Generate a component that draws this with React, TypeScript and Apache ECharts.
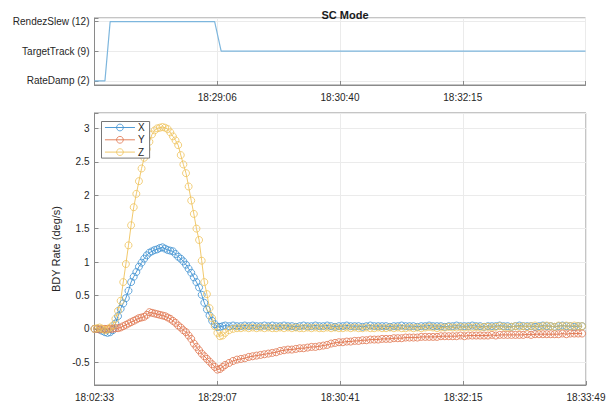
import React, { useEffect, useRef } from "react";
import * as echarts from "echarts";

const MODE_NAMES = ["RateDamp (2)", "TargetTrack (9)", "RendezSlew (12)"];
const MODE_T = [0, 8, 12, 92, 97, 376];
const MODE_V = [0, 0, 2, 2, 1, 1];

const TOP_TICKS = ["", "18:29:06", "18:30:40", "18:32:15", ""];
const BOTTOM_TICKS = ["18:02:33", "18:29:07", "18:30:41", "18:32:15", "18:33:49"];

const T = [
  0, 2, 4, 6, 8, 10, 12, 14, 16, 18,
  20, 22, 24, 26, 28, 30, 32, 34, 36, 38,
  40, 42, 44, 46, 48, 50, 52, 54, 56, 58,
  60, 62, 64, 66, 68, 70, 72, 74, 76, 78,
  80, 82, 84, 86, 88, 90, 92, 94, 96, 98,
  100,
  103, 106, 109, 112, 115, 118, 121, 124, 127, 130,
  133, 136, 139, 142, 145, 148, 151, 154, 157, 160,
  163, 166, 169, 172, 175, 178, 181, 184, 187, 190,
  193, 196, 199, 202, 205, 208, 211, 214, 217, 220,
  223, 226, 229, 232, 235, 238, 241, 244, 247, 250,
  253, 256, 259, 262, 265, 268, 271, 274, 277, 280,
  283, 286, 289, 292, 295, 298, 301, 304, 307, 310,
  313, 316, 319, 322, 325, 328, 331, 334, 337, 340,
  343, 346, 349, 352, 355, 358, 361, 364, 367, 370,
  373,
];

const X = [
  0.0, 0.0, -0.01, -0.03, -0.05, -0.06, -0.05, -0.02, 0.08, 0.19,
  0.3, 0.38, 0.46, 0.57, 0.7, 0.78, 0.85, 0.93, 0.99, 1.05,
  1.1, 1.14, 1.16, 1.18, 1.19, 1.21, 1.22, 1.2, 1.18, 1.17,
  1.16, 1.12, 1.08, 1.05, 1.01, 0.96, 0.9, 0.84, 0.77, 0.7,
  0.62, 0.51, 0.39, 0.29, 0.2, 0.12, 0.07, 0.03, 0.03, 0.04,
  0.05,
  0.04, 0.05, 0.04, 0.04, 0.05, 0.04, 0.05, 0.04, 0.04, 0.05,
  0.04, 0.05, 0.04, 0.04, 0.05, 0.04, 0.04, 0.03, 0.04, 0.05,
  0.04, 0.04, 0.05, 0.04, 0.04, 0.05, 0.04, 0.03, 0.04, 0.04,
  0.05, 0.04, 0.04, 0.04, 0.03, 0.04, 0.05, 0.04, 0.04, 0.04,
  0.04, 0.03, 0.04, 0.04, 0.05, 0.04, 0.04, 0.04, 0.03, 0.04,
  0.04, 0.05, 0.04, 0.04, 0.04, 0.03, 0.04, 0.04, 0.05, 0.04,
  0.04, 0.04, 0.05, 0.04, 0.04, 0.03, 0.04, 0.04, 0.04, 0.05,
  0.04, 0.04, 0.03, 0.04, 0.05, 0.04, 0.04, 0.04, 0.03, 0.04,
  0.05, 0.04, 0.04, 0.03, 0.04, 0.05, 0.04, 0.04, 0.03, 0.04,
  0.04,
];

const Y = [
  0.0, 0.0, -0.01, 0.0, 0.0, 0.0, 0.0, 0.0, 0.01, 0.01,
  0.02, 0.04, 0.06, 0.08, 0.1, 0.12, 0.14, 0.16, 0.17, 0.18,
  0.21, 0.25, 0.24, 0.23, 0.22, 0.21, 0.2, 0.19, 0.17, 0.15,
  0.12, 0.09, 0.05, 0.02, -0.02, -0.05, -0.1, -0.15, -0.22, -0.27,
  -0.32, -0.37, -0.41, -0.45, -0.49, -0.53, -0.57, -0.61, -0.6, -0.57,
  -0.54,
  -0.51, -0.48, -0.46, -0.45, -0.44, -0.42, -0.41, -0.4, -0.39, -0.38,
  -0.37, -0.36, -0.35, -0.33, -0.32, -0.31, -0.31, -0.3, -0.29, -0.29,
  -0.28, -0.27, -0.27, -0.26, -0.25, -0.24, -0.22, -0.21, -0.2, -0.2,
  -0.19, -0.19, -0.18, -0.18, -0.17, -0.17, -0.16, -0.16, -0.16, -0.15,
  -0.15, -0.15, -0.14, -0.14, -0.14, -0.13, -0.13, -0.13, -0.13, -0.12,
  -0.12, -0.12, -0.12, -0.12, -0.11, -0.11, -0.11, -0.11, -0.11, -0.1,
  -0.11, -0.1, -0.1, -0.1, -0.1, -0.1, -0.1, -0.09, -0.1, -0.09,
  -0.09, -0.09, -0.09, -0.09, -0.09, -0.09, -0.08, -0.09, -0.08, -0.08,
  -0.08, -0.08, -0.08, -0.08, -0.08, -0.07, -0.08, -0.07, -0.07, -0.07,
  -0.07,
];

const Z = [
  0.0, 0.01, 0.02, 0.0, -0.02, -0.01, 0.02, 0.05, 0.15, 0.27,
  0.42, 0.7, 0.97, 1.25, 1.55, 1.82, 2.02, 2.21, 2.4, 2.56,
  2.69, 2.8, 2.91, 2.97, 3.0, 3.01, 3.02, 3.01, 2.99, 2.94,
  2.88, 2.82, 2.75, 2.6, 2.46, 2.33, 2.13, 1.92, 1.72, 1.5,
  1.33, 1.02, 0.7, 0.52, 0.31, 0.16, 0.04, -0.06, -0.11, -0.1,
  -0.06,
  -0.02, 0.0, 0.01, 0.01, 0.02, 0.01, 0.02, 0.01, 0.02, 0.01,
  0.02, 0.01, 0.01, 0.02, 0.01, 0.02, 0.01, 0.02, 0.01, 0.01,
  0.02, 0.01, 0.02, 0.01, 0.01, 0.02, 0.01, 0.02, 0.01, 0.01,
  0.02, 0.01, 0.02, 0.01, 0.01, 0.02, 0.01, 0.01, 0.02, 0.01,
  0.01, 0.02, 0.01, 0.02, 0.01, 0.01, 0.02, 0.01, 0.02, 0.01,
  0.02, 0.03, 0.02, 0.01, 0.02, 0.02, 0.03, 0.02, 0.02, 0.03,
  0.02, 0.03, 0.02, 0.03, 0.02, 0.03, 0.03, 0.02, 0.03, 0.04,
  0.03, 0.02, 0.03, 0.04, 0.03, 0.04, 0.03, 0.04, 0.05, 0.03,
  0.04, 0.05, 0.04, 0.03, 0.05, 0.04, 0.05, 0.04, 0.05, 0.04,
  0.04,
];

const SERIES_NAMES = ["X", "Y", "Z"];
const SERIES_VALUES = [X, Y, Z];
const COLORS = ["#3d91d1", "#e0744c", "#efc35c"];

const FONT = "Liberation Sans, Arial, Helvetica, sans-serif";
const TEXT = "#262626";
const AXIS = "#8a8a8a";
const GRID = "#ebebeb";

export default function App() {
  const ref = useRef<HTMLDivElement>(null);

  useEffect(() => {
    document.body.style.margin = "0";
    if (!ref.current) return;
    const chart = echarts.init(ref.current, null, { renderer: "svg" });

    const axisCommon = {
      axisLine: { show: true, onZero: false, lineStyle: { color: AXIS, width: 1 } },
      axisTick: { show: true, inside: true, length: 4, lineStyle: { color: AXIS } },
      splitLine: { show: true, lineStyle: { color: GRID, width: 1 } },
    };

    const option: any = {
      animation: false,
      backgroundColor: "#ffffff",
      textStyle: { fontFamily: FONT },
      title: {
        text: "SC Mode",
        left: 340,
        top: 4,
        textAlign: "center",
        textStyle: { fontFamily: FONT, fontSize: 11, fontWeight: "bold", color: "#1a1a1a" },
      },
      grid: [
        { left: 94.5, top: 18, width: 491, height: 67, containLabel: false, show: true, borderColor: AXIS, borderWidth: 1, backgroundColor: "transparent" },
        { left: 94.5, top: 113, width: 491.5, height: 272, containLabel: false, show: true, borderColor: AXIS, borderWidth: 1, backgroundColor: "transparent" },
      ],
      legend: {
        data: SERIES_NAMES,
        orient: "vertical",
        left: 101.5,
        top: 121.5,
        itemWidth: 30,
        itemHeight: 8.5,
        itemGap: 0.3,
        padding: [0, 5, 0, 3],
        backgroundColor: "#ffffff",
        borderColor: "#777777",
        borderWidth: 1,
        borderRadius: 0,
        itemStyle: { borderWidth: 0.8 },
        lineStyle: { width: 0.9 },
        textStyle: { fontFamily: FONT, fontSize: 10, color: TEXT, lineHeight: 12, padding: [0, 0, 0, -2] },
      },
      xAxis: [
        {
          type: "value",
          gridIndex: 0,
          min: 0,
          max: 376,
          interval: 94,
          ...axisCommon,
          axisLabel: {
            margin: 7,
            fontFamily: FONT,
            fontSize: 10,
            color: TEXT,
            formatter: (v: number) => TOP_TICKS[Math.round(v / 94)] ?? "",
          },
        },
        {
          type: "value",
          gridIndex: 1,
          min: 0,
          max: 376,
          interval: 94,
          ...axisCommon,
          axisLabel: {
            margin: 7,
            fontFamily: FONT,
            fontSize: 10,
            color: TEXT,
            formatter: (v: number) => BOTTOM_TICKS[Math.round(v / 94)] ?? "",
          },
        },
      ],
      yAxis: [
        {
          type: "value",
          gridIndex: 0,
          min: -0.14,
          max: 2.12,
          splitNumber: 2,
          ...axisCommon,
          axisLabel: {
            margin: 5,
            fontFamily: FONT,
            fontSize: 10,
            color: TEXT,
            formatter: (v: number) => (Math.abs(v - Math.round(v)) < 1e-6 ? MODE_NAMES[Math.round(v)] ?? "" : ""),
          },
        },
        {
          type: "value",
          gridIndex: 1,
          min: -0.84,
          max: 3.23,
          splitNumber: 8,
          ...axisCommon,
          name: "BDY Rate (deg/s)",
          nameLocation: "middle",
          nameRotate: 90,
          nameGap: 25,
          nameTextStyle: { fontFamily: FONT, fontSize: 11, color: TEXT },
          axisLabel: {
            margin: 5,
            fontFamily: FONT,
            fontSize: 10,
            color: TEXT,
            formatter: (v: number) => {
              const k = Math.round(v * 2);
              if (Math.abs(v * 2 - k) > 1e-6) return "";
              return String(k / 2);
            },
          },
        },
      ],
      series: [
        {
          type: "line",
          name: "SC Mode",
          xAxisIndex: 0,
          yAxisIndex: 0,
          data: MODE_T.map((t, i) => [t, MODE_V[i]]),
          symbol: "none",
          lineStyle: { color: "#7db6dd", width: 1.2 },
          itemStyle: { color: "#7db6dd" },
          silent: true,
        },
        ...SERIES_NAMES.map((name, s) => ({
          type: "line",
          name,
          xAxisIndex: 1,
          yAxisIndex: 1,
          data: T.map((t, i) => [t, SERIES_VALUES[s][i]]),
          symbol: "circle",
          symbolSize: 7,
          showAllSymbol: true,
          lineStyle: { color: COLORS[s], width: 0.9 },
          itemStyle: { color: "rgba(255,255,255,0)", borderColor: COLORS[s], borderWidth: 0.8 },
          emphasis: { disabled: true },
          silent: true,
        })),
      ],
    };

    chart.setOption(option);
    return () => chart.dispose();
  }, []);

  return <div ref={ref} style={{ width: 610, height: 404 }} />;
}
